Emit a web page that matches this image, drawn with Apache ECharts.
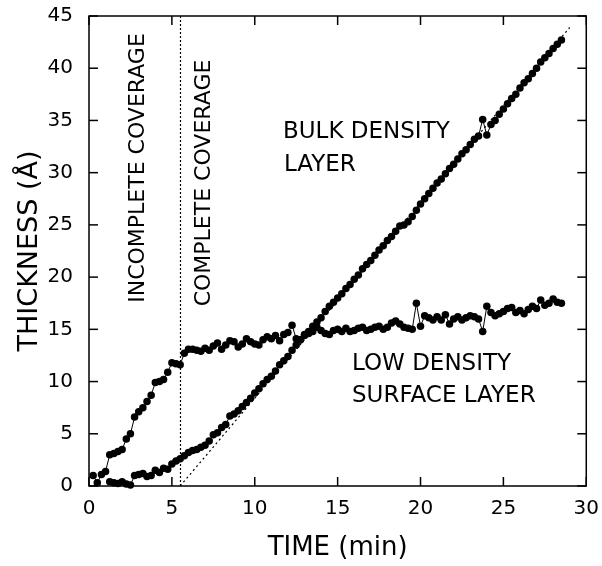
<!DOCTYPE html>
<html>
<head>
<meta charset="utf-8">
<script src="https://cdn.jsdelivr.net/npm/echarts@6/dist/echarts.min.js"></script>
<style>
  html, body { margin: 0; padding: 0; background: #fff; }
  #container { width: 602px; height: 566px; }
</style>
</head>
<body>
<div id="container"></div>
<script type="text/javascript">

// time in minutes, one reading every 0.25 min
var timeMin = [0.25, 0.5, 0.75, 1.0, 1.25, 1.5, 1.75, 2.0, 2.25, 2.5, 2.75, 3.0, 3.25, 3.5, 3.75, 4.0,
    4.25, 4.5, 4.75, 5.0, 5.25, 5.5, 5.75, 6.0, 6.25, 6.5, 6.75, 7.0, 7.25, 7.5, 7.75, 8.0,
    8.25, 8.5, 8.75, 9.0, 9.25, 9.5, 9.75, 10.0, 10.25, 10.5, 10.75, 11.0, 11.25, 11.5, 11.75, 12.0,
    12.25, 12.5, 12.75, 13.0, 13.25, 13.5, 13.75, 14.0, 14.25, 14.5, 14.75, 15.0, 15.25, 15.5, 15.75, 16.0,
    16.25, 16.5, 16.75, 17.0, 17.25, 17.5, 17.75, 18.0, 18.25, 18.5, 18.75, 19.0, 19.25, 19.5, 19.75, 20.0,
    20.25, 20.5, 20.75, 21.0, 21.25, 21.5, 21.75, 22.0, 22.25, 22.5, 22.75, 23.0, 23.25, 23.5, 23.75, 24.0,
    24.25, 24.5, 24.75, 25.0, 25.25, 25.5, 25.75, 26.0, 26.25, 26.5, 26.75, 27.0, 27.25, 27.5, 27.75, 28.0,
    28.25, 28.5];

// low density surface layer
var surfaceThk = [1.0, 0.3, 1.1, 1.4, 3.0, 3.1, 3.3, 3.5, 4.5, 5.0, 6.6, 7.1, 7.5, 8.1, 8.7, 9.9,
    10.0, 10.2, 10.9, 11.8, 11.7, 11.6, 12.7, 13.1, 13.1, 13.0, 12.9, 13.2, 13.0, 13.4, 13.7, 13.1,
    13.5, 13.9, 13.8, 13.3, 13.6, 14.1, 13.8, 13.6, 13.5, 14.0, 14.3, 14.1, 14.4, 13.9, 14.5, 14.7,
    15.4, 14.1, 14.0, 14.4, 14.6, 14.8, 15.2, 14.9, 14.6, 14.5, 14.9, 15.0, 14.8, 15.1, 14.8, 14.9,
    15.1, 15.2, 14.9, 15.0, 15.2, 15.3, 15.0, 15.2, 15.6, 15.8, 15.5, 15.2, 15.1, 15.0, 17.5, 15.3,
    16.3, 16.1, 15.9, 16.2, 15.9, 16.4, 15.5, 16.0, 16.2, 15.9, 16.1, 16.3, 16.2, 16.0, 14.8, 17.2,
    16.6, 16.3, 16.5, 16.7, 17.0, 17.1, 16.6, 16.8, 16.5, 16.9, 17.2, 17.0, 17.8, 17.3, 17.5, 17.9,
    17.6, 17.5];

// bulk density layer
var bulkThk = [null, null, null, null, 0.4, 0.3, 0.25, 0.4, 0.2, 0.1, 1.0, 1.1, 1.2, 0.9, 1.0, 1.5,
    1.3, 1.7, 1.6, 2.1, 2.4, 2.6, 2.9, 3.2, 3.4, 3.5, 3.7, 3.9, 4.3, 4.9, 5.1, 5.6,
    5.9, 6.7, 6.9, 7.2, 7.6, 8.0, 8.4, 8.9, 9.3, 9.8, 10.2, 10.5, 11.0, 11.6, 12.0, 12.4,
    13.0, 13.5, 14.0, 14.5, 14.8, 15.3, 15.7, 16.1, 16.7, 17.2, 17.6, 18.0, 18.4, 18.9, 19.3, 19.8,
    20.2, 20.8, 21.2, 21.6, 22.1, 22.6, 23.0, 23.5, 23.9, 24.4, 24.9, 25.0, 25.3, 25.8, 26.4, 27.0,
    27.5, 28.0, 28.5, 29.0, 29.4, 29.9, 30.4, 30.8, 31.3, 31.8, 32.2, 32.7, 33.2, 33.5, 35.1, 33.6,
    34.6, 35.0, 35.6, 36.1, 36.6, 37.1, 37.5, 38.1, 38.6, 39.0, 39.5, 40.0, 40.6, 41.0, 41.4, 41.9,
    42.3, 42.7];

var coverageTime = 5.5;
var fitLine = [[5.5, 0], [29.0, 43.9]];

var xTicks = [0, 5, 10, 15, 20, 25, 30];
var yTicks = [0, 5, 10, 15, 20, 25, 30, 35, 40, 45];

var dom = document.getElementById("container");
var myChart = echarts.init(dom);
var font = 'DejaVu Sans';
var TICK = 9;
var xMin = xTicks[0], xMax = xTicks[xTicks.length - 1];
var yMin = yTicks[0], yMax = yTicks[yTicks.length - 1];

function pairs(ys) {
    var out = [];
    for (var i = 0; i < timeMin.length; i++) {
        if (ys[i] != null) out.push([timeMin[i], ys[i]]);
    }
    return out;
}

function dotSeries(name, ys) {
    return {
        name: name,
        type: 'line',
        data: pairs(ys),
        symbol: 'circle',
        symbolSize: 7.5,
        showSymbol: true,
        itemStyle: { color: '#000', borderWidth: 0 },
        lineStyle: { color: '#000', width: 1 },
        z: 3
    };
}

// inward tick marks: thin rect symbols sitting on the frame, shifted inside
function tickSeries(data, size, offset) {
    return {
        type: 'scatter',
        data: data,
        symbol: 'rect',
        symbolSize: size,
        symbolOffset: offset,
        itemStyle: { color: '#000', borderWidth: 0, opacity: 1 },
        clip: false,
        silent: true,
        z: 5
    };
}

var option = {
    animation: false,
    grid: { left: 89, right: 14, top: 16, bottom: 70, show: true, borderColor: '#000', borderWidth: 1.5 },
    xAxis: {
        type: 'value', min: xMin, max: xMax, interval: 5,
        name: 'TIME (min)', nameLocation: 'middle', nameGap: 49, nameMoveOverlap: false,
        nameTextStyle: { fontFamily: font, fontSize: 26, color: '#000' },
        axisLine: { show: false },
        axisTick: { show: false },
        axisLabel: { margin: 13, fontFamily: font, fontSize: 20, color: '#000' },
        splitLine: { show: false }
    },
    yAxis: {
        type: 'value', min: yMin, max: yMax, interval: 5,
        name: 'THICKNESS (Å)', nameLocation: 'middle', nameGap: 46, nameMoveOverlap: false,
        nameTextStyle: { fontFamily: font, fontSize: 27, color: '#000' },
        axisLine: { show: false },
        axisTick: { show: false },
        axisLabel: { margin: 16, fontFamily: font, fontSize: 20, color: '#000' },
        splitLine: { show: false }
    },
    graphic: [
        { type: 'text', x: 138, y: 168, rotation: Math.PI / 2,
          style: { text: 'INCOMPLETE COVERAGE', font: '22px "DejaVu Sans"', fill: '#000', textAlign: 'center', textVerticalAlign: 'middle' } },
        { type: 'text', x: 204, y: 183, rotation: Math.PI / 2,
          style: { text: 'COMPLETE COVERAGE', font: '22px "DejaVu Sans"', fill: '#000', textAlign: 'center', textVerticalAlign: 'middle' } },
        { type: 'text', x: 283, y: 132,
          style: { text: 'BULK DENSITY', font: '23px "DejaVu Sans"', fill: '#000', textAlign: 'left', textVerticalAlign: 'middle' } },
        { type: 'text', x: 284, y: 165,
          style: { text: 'LAYER', font: '23px "DejaVu Sans"', fill: '#000', textAlign: 'left', textVerticalAlign: 'middle' } },
        { type: 'text', x: 352, y: 364,
          style: { text: 'LOW DENSITY', font: '23px "DejaVu Sans"', fill: '#000', textAlign: 'left', textVerticalAlign: 'middle' } },
        { type: 'text', x: 352, y: 396,
          style: { text: 'SURFACE LAYER', font: '23px "DejaVu Sans"', fill: '#000', textAlign: 'left', textVerticalAlign: 'middle' } }
    ],
    series: [
        tickSeries(xTicks.map(function (v) { return [v, yMin]; }), [1.5, TICK], [0, -TICK / 2]),
        tickSeries(xTicks.map(function (v) { return [v, yMax]; }), [1.5, TICK], [0, TICK / 2]),
        tickSeries(yTicks.map(function (v) { return [xMin, v]; }), [TICK, 1.5], [TICK / 2, 0]),
        tickSeries(yTicks.map(function (v) { return [xMax, v]; }), [TICK, 1.5], [-TICK / 2, 0]),
        {
            name: 'fit',
            type: 'line',
            data: fitLine,
            symbol: 'none',
            lineStyle: { color: '#000', width: 1.2, type: [2, 3] },
            markLine: {
                silent: true, symbol: 'none', label: { show: false },
                lineStyle: { color: '#000', width: 1.2, type: [2, 2] },
                data: [{ xAxis: coverageTime }]
            },
            z: 2
        },
        dotSeries('surface', surfaceThk),
        dotSeries('bulk', bulkThk)
    ]
};

if (option && typeof option === "object") {
    myChart.setOption(option, true);
}
</script>
</body>
</html>
